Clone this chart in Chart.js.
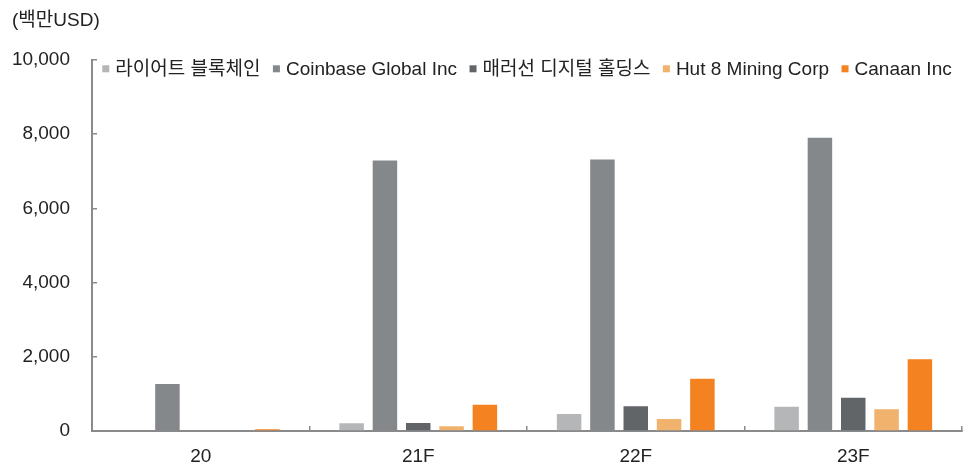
<!DOCTYPE html>
<html><head><meta charset="utf-8">
<script src="https://cdn.jsdelivr.net/npm/chart.js@4/dist/chart.umd.min.js"></script>
<style>html,body{margin:0;padding:0;background:#fff}#wrap{width:976px;height:465px}</style>
</head><body><div id="wrap"><canvas id="c" width="976" height="465"></canvas></div>
<script>
const categories = ['20', '21F', '22F', '23F'];
const seriesNames = ['라이어트 블록체인', 'Coinbase Global Inc', '매러선 디지털 홀딩스', 'Hut 8 Mining Corp', 'Canaan Inc'];
const riot = [0, 207, 457, 653];
const coinbase = [1263, 7285, 7312, 7903];
const marathon = [0, 215, 664, 895];
const hut8 = [0, 126, 323, 583];
const canaan = [50, 707, 1406, 1935];
const yTicks = [0, 2000, 4000, 6000, 8000, 10000];
const colors = ['#b5b6b7', '#85888a', '#626568', '#f0b26c', '#f58220'];
const FONT = "'Liberation Sans', 'Noto Sans CJK KR', sans-serif";
const FS = 19;

const seriesValues = [riot, coinbase, marathon, hut8, canaan];

// legend drawn inside the top of the chart area
const innerLegend = {
  id: 'innerLegend',
  afterDraw(chart) {
    const ctx = chart.ctx, ca = chart.chartArea;
    ctx.save();
    ctx.font = `${FS}px ${FONT}`;
    const box = 7, gapBT = 6, gapItem = 12.5;
    const items = chart.data.datasets.map(d => ({ label: d.label, color: d.backgroundColor, w: ctx.measureText(d.label).width }));
    const total = items.reduce((a, it) => a + box + gapBT + it.w, 0) + gapItem * (items.length - 1);
    let x = (ca.left + ca.right) / 2 - total / 2;
    const yc = ca.top + 10;
    ctx.textBaseline = 'middle';
    items.forEach(it => {
      ctx.fillStyle = it.color;
      ctx.fillRect(x, yc - box / 2 - 1, box, box);
      x += box + gapBT;
      ctx.fillStyle = '#222';
      ctx.fillText(it.label, x, yc);
      x += it.w + gapItem;
    });
    ctx.restore();
  }
};

new Chart(document.getElementById('c'), {
  type: 'bar',
  data: {
    labels: categories,
    datasets: seriesNames.map((n, i) => ({
      label: n, data: seriesValues[i], backgroundColor: colors[i],
      categoryPercentage: 0.766, barPercentage: 0.735
    }))
  },
  plugins: [innerLegend],
  options: {
    responsive: false, animation: false,
    layout: { padding: { left: 12, right: 14, top: 0, bottom: 0 } },
    plugins: {
      title: { display: true, text: '(백만USD)', align: 'start', color: '#222',
        font: { family: FONT, size: FS, weight: 'normal' }, padding: { top: 9, bottom: 28 } },
      legend: { display: false },
      tooltip: { enabled: false }
    },
    scales: {
      x: {
        afterFit: s => { s.height = 34; s.paddingLeft = 0; s.paddingRight = 0; },
        grid: { display: true, drawOnChartArea: false, offset: true, tickLength: -5, color: '#8a8a8a', lineWidth: 1.5 },
        border: { display: true, color: '#8a8a8a', width: 2 },
        ticks: { color: '#222', font: { family: FONT, size: FS }, padding: 19 }
      },
      y: {
        min: 0, max: 10000,
        afterBuildTicks: s => { s.ticks = yTicks.map(v => ({ value: v })); },
        afterFit: s => { s.width = 80; s.paddingTop = 0; s.paddingBottom = 0; },
        grid: { display: true, drawOnChartArea: false, tickLength: -5, color: '#8a8a8a', lineWidth: 1.5 },
        border: { display: true, color: '#8a8a8a', width: 2 },
        ticks: { color: '#222', font: { family: FONT, size: FS }, padding: 27,
          callback: v => v.toLocaleString('en-US') }
      }
    }
  }
});
</script></body></html>
